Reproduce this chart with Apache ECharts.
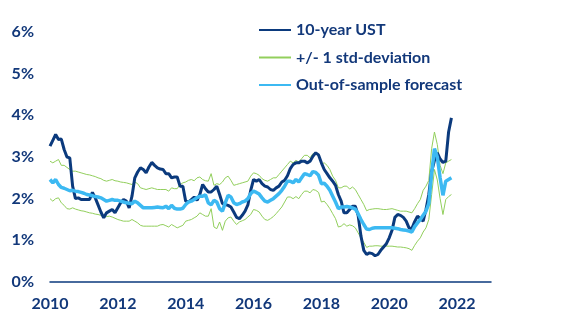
<!DOCTYPE html>
<html>
<head>
<meta charset="utf-8">
<script src="https://cdn.jsdelivr.net/npm/echarts@6/dist/echarts.min.js"></script>
<style>html,body{margin:0;padding:0;background:#fff}#c{width:584px;height:334px}</style>
</head>
<body>
<div id="c"></div>
<script>
// Monthly observations, starting January 2010
var startYear = 2010;
var xTicks = [2010, 2012, 2014, 2016, 2018, 2020, 2022];
var yTicks = [0, 1, 2, 3, 4, 5, 6];
var legendNames = ['10-year UST', '+/- 1 std-deviation', 'Out-of-sample forecast'];

var ust = [
 3.26,3.40,3.54,3.42,3.43,3.18,3.00,2.98,2.30,2.00,2.02,1.98,
 1.98,1.98,1.98,2.15,2.02,1.85,1.68,1.54,1.66,1.70,1.74,1.66,
 1.78,1.90,1.98,1.94,1.78,2.06,2.50,2.64,2.74,2.70,2.62,2.76,
 2.87,2.80,2.74,2.71,2.70,2.60,2.60,2.50,2.52,2.52,2.30,2.30,
 1.94,1.92,1.98,2.04,1.96,2.10,2.34,2.24,2.16,2.16,2.22,2.30,
 2.10,1.88,1.86,1.84,1.80,1.68,1.55,1.52,1.60,1.70,1.85,2.20,
 2.46,2.42,2.46,2.36,2.30,2.28,2.22,2.20,2.26,2.30,2.40,2.44,
 2.55,2.72,2.82,2.86,2.86,2.90,2.90,2.86,2.90,3.02,3.10,3.05,
 2.86,2.70,2.60,2.50,2.42,2.32,2.10,1.94,1.66,1.66,1.74,1.82,
 1.82,1.60,1.10,0.76,0.66,0.70,0.68,0.63,0.66,0.76,0.84,0.92,
 1.06,1.24,1.55,1.62,1.60,1.55,1.46,1.30,1.28,1.45,1.58,1.52,
 1.46,1.74,2.10,2.65,2.92,3.10,2.95,2.87,2.90,3.60,3.94
];
var forecast = [
 2.46,2.38,2.46,2.34,2.27,2.25,2.22,2.19,2.20,2.18,2.17,2.15,
 2.13,2.10,2.09,2.07,2.05,2.04,2.02,1.98,1.94,1.96,1.98,1.96,
 1.96,1.94,1.92,1.90,1.89,1.88,1.94,1.90,1.84,1.78,1.78,1.78,
 1.78,1.79,1.80,1.79,1.78,1.82,1.76,1.84,1.77,1.75,1.75,1.77,
 1.86,1.92,1.94,1.98,2.02,2.06,2.06,2.09,1.90,1.85,1.96,1.92,
 1.76,1.70,1.90,2.08,2.04,1.90,1.86,1.88,1.92,1.94,2.00,2.12,
 2.18,2.15,2.11,2.02,1.94,1.92,1.96,2.00,2.06,2.12,2.20,2.30,
 2.42,2.42,2.38,2.46,2.40,2.50,2.60,2.58,2.55,2.65,2.63,2.56,
 2.36,2.37,2.30,2.20,2.06,1.92,1.76,1.80,1.80,1.81,1.80,1.78,
 1.75,1.64,1.50,1.38,1.27,1.26,1.29,1.30,1.30,1.30,1.30,1.30,
 1.30,1.30,1.29,1.28,1.26,1.25,1.24,1.22,1.20,1.33,1.42,1.50,
 1.60,1.70,1.88,2.60,3.20,3.00,2.50,2.08,2.42,2.46,2.50
];
var upper = [
 2.90,2.86,2.90,2.94,2.80,2.80,2.75,2.70,2.66,2.66,2.64,2.62,
 2.60,2.58,2.57,2.55,2.53,2.50,2.48,2.44,2.42,2.44,2.46,2.43,
 2.42,2.40,2.39,2.38,2.36,2.34,2.40,2.36,2.26,2.24,2.22,2.24,
 2.26,2.24,2.22,2.22,2.22,2.22,2.18,2.26,2.24,2.24,2.34,2.38,
 2.40,2.44,2.46,2.43,2.50,2.52,2.46,2.43,2.42,2.60,2.32,2.36,
 2.34,2.40,2.50,2.54,2.44,2.32,2.34,2.36,2.38,2.40,2.42,2.54,
 2.62,2.60,2.56,2.48,2.44,2.42,2.46,2.50,2.50,2.58,2.66,2.74,
 2.82,2.90,2.86,2.92,2.88,2.96,3.04,3.04,2.98,3.08,3.07,3.03,
 2.84,2.86,2.80,2.70,2.54,2.44,2.26,2.26,2.30,2.30,2.23,2.28,
 2.22,2.10,1.98,1.86,1.71,1.74,1.75,1.76,1.76,1.75,1.74,1.74,
 1.75,1.76,1.74,1.72,1.70,1.70,1.70,1.68,1.66,1.76,1.88,1.98,
 2.20,2.30,2.44,3.20,3.60,3.30,2.80,2.60,2.86,2.90,2.94
];
var lower = [
 2.00,1.94,2.00,2.02,1.90,1.84,1.76,1.75,1.78,1.75,1.73,1.71,
 1.70,1.68,1.66,1.65,1.63,1.62,1.60,1.56,1.57,1.58,1.56,1.53,
 1.50,1.48,1.46,1.46,1.46,1.50,1.46,1.42,1.36,1.34,1.34,1.34,
 1.34,1.34,1.34,1.37,1.38,1.35,1.32,1.38,1.34,1.30,1.33,1.36,
 1.46,1.48,1.50,1.54,1.58,1.66,1.62,1.58,1.58,1.76,1.32,1.28,
 1.44,1.24,1.46,1.54,1.56,1.46,1.38,1.44,1.47,1.50,1.56,1.62,
 1.74,1.72,1.68,1.58,1.50,1.48,1.52,1.57,1.64,1.72,1.80,1.92,
 2.04,2.04,2.00,2.05,2.00,2.10,2.18,2.18,2.14,2.22,2.20,2.15,
 1.92,1.94,1.86,1.76,1.64,1.52,1.32,1.34,1.40,1.34,1.37,1.35,
 1.30,1.18,1.06,0.95,0.83,0.86,0.86,0.87,0.87,0.86,0.86,0.86,
 0.86,0.86,0.85,0.84,0.84,0.83,0.82,0.80,0.76,0.88,0.98,1.06,
 1.20,1.30,1.50,2.10,2.70,2.45,2.00,1.62,1.98,2.05,2.10
];

function toPairs(arr) {
  return arr.map(function (v, i) { return [startYear + i / 12, v]; });
}

var navy = '#0b3a7d';
var textColor = '#12387a';
var green = '#92cf5c';
var cyan = '#3cb9f2';
var fontFamily = 'Lato, "Open Sans", sans-serif';

var chart = echarts.init(document.getElementById('c'), null, {renderer: 'canvas'});
chart.setOption({
  animation: false,
  backgroundColor: '#fff',
  grid: {left: 50, right: 93, top: 32, bottom: 52, containLabel: false},
  legend: {
    data: legendNames,
    orient: 'vertical',
    left: 258,
    top: 22,
    padding: 0,
    itemWidth: 32,
    itemHeight: 14,
    itemGap: 11.5,
    itemStyle: {opacity: 0},
    textStyle: {color: textColor, fontSize: 16, fontWeight: 'bold', fontFamily: fontFamily}
  },
  xAxis: {
    type: 'value',
    min: xTicks[0],
    max: 2023,
    interval: 2,
    axisLine: {show: true, lineStyle: {color: navy, width: 1.5}},
    axisTick: {show: false},
    splitLine: {show: false},
    axisLabel: {
      showMaxLabel: false,
      margin: 14,
      color: textColor, fontSize: 16, fontWeight: 'bold', fontFamily: fontFamily,
      formatter: function (v) { return xTicks.indexOf(v) >= 0 ? String(v) : ''; }
    }
  },
  yAxis: {
    type: 'value',
    min: yTicks[0],
    max: yTicks[yTicks.length - 1],
    interval: 1,
    axisLine: {show: false},
    axisTick: {show: false},
    splitLine: {show: false},
    axisLabel: {
      margin: 16,
      color: textColor, fontSize: 16, fontWeight: 'bold', fontFamily: fontFamily,
      formatter: '{value}%'
    }
  },
  series: [
    {name: legendNames[1], type: 'line', data: toPairs(upper), symbol: 'none',
     lineStyle: {color: green, width: 1}, itemStyle: {color: green}, z: 1},
    {name: legendNames[1], type: 'line', data: toPairs(lower), symbol: 'none',
     lineStyle: {color: green, width: 1}, itemStyle: {color: green}, z: 1},
    {name: legendNames[0], type: 'line', data: toPairs(ust), symbol: 'none',
     lineStyle: {color: navy, width: 3}, itemStyle: {color: navy}, z: 2},
    {name: legendNames[2], type: 'line', data: toPairs(forecast), symbol: 'none',
     lineStyle: {color: cyan, width: 3.5}, itemStyle: {color: cyan}, z: 3}
  ]
});
</script>
</body>
</html>
